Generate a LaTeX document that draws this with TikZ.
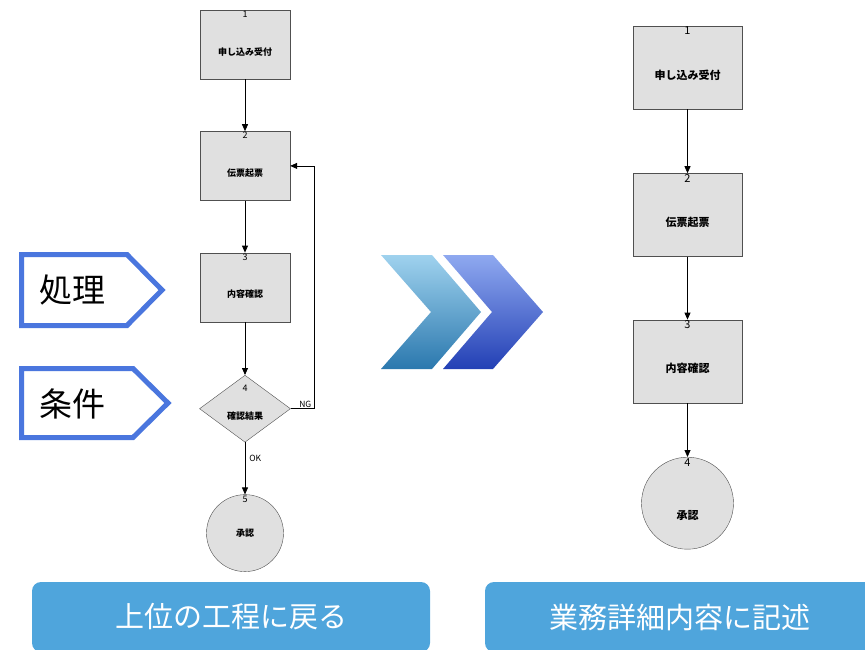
\documentclass[tikz,border=0pt]{standalone}
\usepackage{fontspec}
\newfontfamily\jp{Noto Sans CJK JP}
\usepackage{xcolor}
\usetikzlibrary{positioning,arrows.meta,shapes.geometric}

\definecolor{boxgray}{HTML}{E0E0E0}
\definecolor{edgegray}{HTML}{505050}
\definecolor{tagblue}{RGB}{74,118,222}
\definecolor{btnblue}{RGB}{79,165,220}
\definecolor{chevAtop}{HTML}{9FD2EE}
\definecolor{chevAbot}{HTML}{2B78AE}
\definecolor{chevBtop}{HTML}{8FA9F0}
\definecolor{chevBbot}{HTML}{2340B5}

\begin{document}
\begin{tikzpicture}[
    x=1pt, y=-1pt,
    node distance=52pt,
    box/.style={draw=edgegray, fill=boxgray, minimum width=90pt, minimum height=69pt, inner sep=0pt, font=\jp\bfseries\fontsize{9}{10}\selectfont, text height=21pt, text depth=0pt},
    bigbox/.style={box, minimum width=109pt, minimum height=83pt, font=\jp\bfseries\fontsize{11}{12}\selectfont, text height=23pt},
    decbox/.style={box, diamond, minimum width=91pt, minimum height=67pt},
    endc/.style={draw=edgegray, fill=boxgray, circle, inner sep=0pt, font=\jp\bfseries\fontsize{9}{10}\selectfont},
    num/.style={anchor=north, inner sep=1pt, font=\jp\fontsize{9}{9}\selectfont},
    bignum/.style={num, font=\jp\fontsize{11}{11}\selectfont},
    lbl/.style={inner sep=1pt, font=\jp\fontsize{8.5}{9}\selectfont},
    arr/.style={-{Triangle[length=7pt,width=6pt]}, line width=0.8pt},
    tag/.style={draw=tagblue, line width=5pt, fill=white},
    tagtext/.style={inner sep=0pt, font=\jp\fontsize{33}{36}\selectfont},
    btn/.style={fill=btnblue, rounded corners=9pt, minimum height=70pt, inner sep=0pt, text=white, font=\jp\fontsize{29}{32}\selectfont}
]
\useasboundingbox (0,0) rectangle (865,649);

% left flow
\node[box] (lb1) at (245,44.5) {申し込み受付};
\node[box, below=of lb1] (lb2) {伝票起票};
\node[box, below=of lb2] (lb3) {内容確認};
\node[decbox, below=53pt of lb3] (dec) {確認結果};
\node[endc, minimum size=77pt, below=of dec] (lend) {承認};

\node[num] (lb1n) at (lb1.north) {1};
\node[num] (lb2n) at (lb2.north) {2};
\node[num] (lb3n) at (lb3.north) {3};
\node[num, yshift=-9pt] (decn) at (dec.north) {4};
\node[num] (lendn) at (lend.north) {5};

\draw[arr] (lb1) -- (lb2);
\draw[arr] (lb2) -- (lb3);
\draw[arr] (lb3) -- (dec);
\draw[arr] (dec) -- node[lbl, right=3pt, pos=0.3] (ok) {OK} (lend);
\draw[arr] (dec.east) -- ++(24,0) node[lbl, anchor=south east, xshift=-2pt] (ng) {NG} |- (lb2.east);

% tags
\draw[tag] (21.5,254.5) -- (127,254.5) -- (162,290) -- (127,325.5) -- (21.5,325.5) -- cycle;
\node[tagtext] (tagproc) at (72,290) {処理};
\draw[tag] (21.5,368.5) -- (133,368.5) -- (168,403) -- (133,437.5) -- (21.5,437.5) -- cycle;
\node[tagtext] (tagcond) at (72,404) {条件};

% chevrons
\path[top color=chevAtop, bottom color=chevAbot] (381,255) -- (432,255) -- (481,312) -- (432,369) -- (381,369) -- (431,312) -- cycle;
\path[top color=chevBtop, bottom color=chevBbot] (443,255) -- (493,255) -- (543,312) -- (493,369) -- (443,369) -- (492,312) -- cycle;

% right flow
\node[bigbox] (rb1) at (687.5,67.5) {申し込み受付};
\node[bigbox, below=64pt of rb1] (rb2) {伝票起票};
\node[bigbox, below=63pt of rb2] (rb3) {内容確認};
\node[endc, minimum size=92pt, font=\jp\bfseries\fontsize{11}{12}\selectfont, text height=32pt, text depth=0pt, below=54pt of rb3] (rend) {承認};

\node[bignum] (rb1n) at (rb1.north) {1};
\node[bignum] (rb2n) at (rb2.north) {2};
\node[bignum] (rb3n) at (rb3.north) {3};
\node[bignum] (rendn) at (rend.north) {4};

\draw[arr] (rb1) -- (rb2);
\draw[arr] (rb2) -- (rb3);
\draw[arr] (rb3) -- (rend);

% buttons
\node[btn, minimum width=398pt] (back) at (231,617) {上位の工程に戻る};
\node[btn, minimum width=390pt] (detail) at (680,617) {業務詳細内容に記述};
\end{tikzpicture}
\end{document}
